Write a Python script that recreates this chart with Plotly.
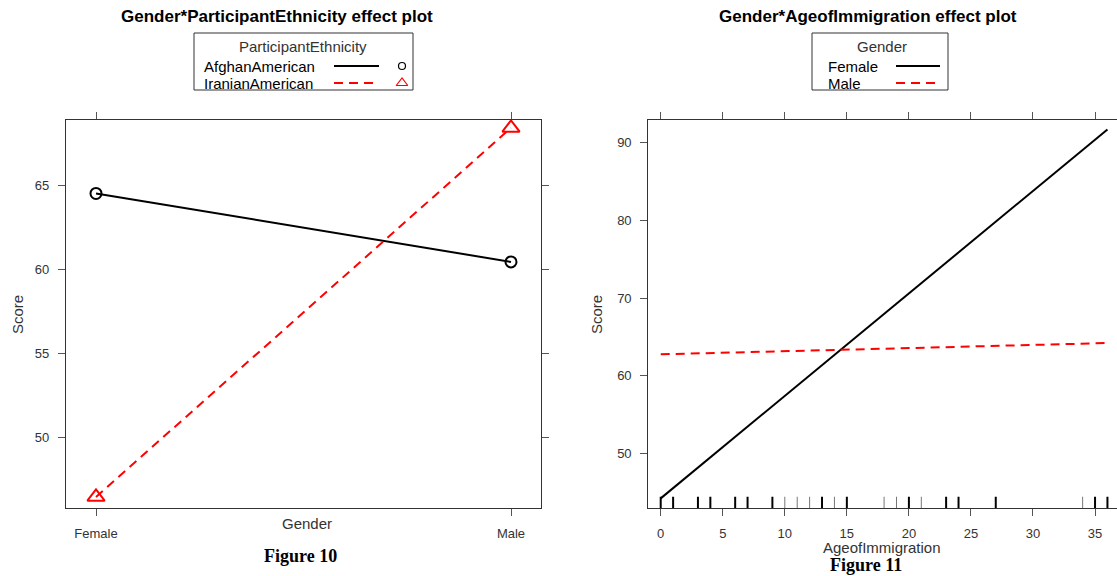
import plotly.graph_objects as go

# ---------------- data ----------------
genders = ["Female", "Male"]
ethnicities = ["AfghanAmerican", "IranianAmerican"]
afghan_score = [64.5, 60.43]
iranian_score = [46.45, 68.4]

age_points = [0, 36]
gender_levels = ["Female", "Male"]
female_score = [44.2, 91.7]
male_score = [62.75, 64.2]
rug_ages = [0, 1, 3, 4, 6, 7, 9, 10, 11, 12, 13, 14, 15, 18, 19, 20, 21, 23, 24, 27, 34, 35, 36]
rug_thin = [10, 11, 12, 14, 18, 19, 21, 34]

left_title = "Gender*ParticipantEthnicity effect plot"
right_title = "Gender*AgeofImmigration effect plot"

W, H = 1117, 576
FONT = "Liberation Sans, Arial, sans-serif"
AX = "#333333"
TXT = "#333333"
RED = "#ff0000"

def px(x):
    return x / W

def py(y):
    return 1 - y / H

fig = go.Figure()

# left panel
fig.add_trace(go.Scatter(x=genders, y=afghan_score, mode="lines+markers", xaxis="x", yaxis="y",
                         line=dict(color="black", width=2),
                         marker=dict(symbol="circle-open", size=11, color="black", line=dict(width=2)),
                         showlegend=False, name=ethnicities[0]))
fig.add_trace(go.Scatter(x=genders, y=iranian_score, mode="lines+markers", xaxis="x", yaxis="y",
                         line=dict(color=RED, width=2, dash="9px,6px"),
                         marker=dict(symbol="triangle-up-open", size=15, color=RED, line=dict(width=2)),
                         showlegend=False, name=ethnicities[1]))

# right panel
fig.add_trace(go.Scatter(x=age_points, y=female_score, mode="lines", xaxis="x2", yaxis="y2",
                         line=dict(color="black", width=2), showlegend=False, name=gender_levels[0]))
fig.add_trace(go.Scatter(x=age_points, y=male_score, mode="lines", xaxis="x2", yaxis="y2",
                         line=dict(color=RED, width=2, dash="9px,6px"), showlegend=False, name=gender_levels[1]))

shapes = []
for a in rug_ages:
    thin = a in rug_thin
    shapes.append(dict(type="line", xref="x2", yref="y2 domain", x0=a, x1=a, y0=0, y1=0.029,
                       line=dict(color="#777777" if thin else "black", width=1 if thin else 2)))

# legend overlay axis in pixel coordinates
fig.add_trace(go.Scatter(x=[402], y=[66], mode="markers", xaxis="x3", yaxis="y3",
                         marker=dict(symbol="circle-open", size=7, color="black", line=dict(width=1.2)),
                         showlegend=False, hoverinfo="skip"))
fig.add_trace(go.Scatter(x=[402], y=[83], mode="markers", xaxis="x3", yaxis="y3",
                         marker=dict(symbol="triangle-up-open", size=10, color=RED, line=dict(width=1.2)),
                         showlegend=False, hoverinfo="skip"))

# legend boxes
shapes.append(dict(type="rect", xref="paper", yref="paper", x0=px(194), x1=px(413), y0=py(33), y1=py(90),
                   line=dict(color=AX, width=1)))
shapes.append(dict(type="rect", xref="paper", yref="paper", x0=px(812), x1=px(948), y0=py(33), y1=py(90),
                   line=dict(color=AX, width=1)))
# legend line samples
shapes.append(dict(type="line", xref="paper", yref="paper", x0=px(334), x1=px(379), y0=py(66), y1=py(66),
                   line=dict(color="black", width=2)))
shapes.append(dict(type="line", xref="paper", yref="paper", x0=px(334), x1=px(379), y0=py(83), y1=py(83),
                   line=dict(color=RED, width=2, dash="9px,6px")))
shapes.append(dict(type="line", xref="paper", yref="paper", x0=px(896), x1=px(940), y0=py(66), y1=py(66),
                   line=dict(color="black", width=2)))
shapes.append(dict(type="line", xref="paper", yref="paper", x0=px(896), x1=px(940), y0=py(83), y1=py(83),
                   line=dict(color=RED, width=2, dash="9px,6px")))

ann = []
def text(x, y, s, size=15, xanchor="center", bold=False, family=FONT, color=TXT, angle=0):
    ann.append(dict(x=px(x), y=py(y), xref="paper", yref="paper", text=("<b>%s</b>" % s) if bold else s,
                    showarrow=False, xanchor=xanchor, yanchor="middle", textangle=angle,
                    font=dict(size=size, family=family, color=color)))

text(277, 17, left_title, size=17, bold=True, color="black")
text(868, 17, right_title, size=17, bold=True, color="black")
text(303, 46, "ParticipantEthnicity", size=15)
text(202, 66, ethnicities[0], size=15, xanchor="left", color="black")
text(202, 83, ethnicities[1], size=15, xanchor="left", color="black")
text(882, 46, "Gender", size=15)
text(826, 66, gender_levels[0], size=15, xanchor="left", color="black")
text(826, 83, gender_levels[1], size=15, xanchor="left", color="black")
text(17, 315, "Score", size=15, angle=-90)
text(596, 315, "Score", size=15, angle=-90)
text(307, 523, "Gender", size=15)
text(882, 547, "AgeofImmigration", size=15)
text(301, 556, "Figure 10", size=18, bold=True, family="Liberation Serif, Times New Roman, serif", color="black")
text(866, 565, "Figure 11", size=18, bold=True, family="Liberation Serif, Times New Roman, serif", color="black")

axcommon = dict(showline=True, linecolor=AX, linewidth=1.2, ticks="outside", ticklen=7, tickcolor="#555555",
                tickwidth=1.2, showgrid=False, zeroline=False,
                tickfont=dict(size=13, family=FONT, color=TXT))

ydom = [py(508), py(120)]
fig.update_layout(
    width=W, height=H, margin=dict(l=0, r=0, t=0, b=0),
    paper_bgcolor="white", plot_bgcolor="rgba(0,0,0,0)",
    xaxis=dict(domain=[px(66), px(541)], type="category", range=[-0.0723, 1.0723], mirror="ticks",
               anchor="y", ticklabelstandoff=6, **axcommon),
    yaxis=dict(domain=ydom, range=[45.79, 68.87], tickvals=[50, 55, 60, 65], mirror="ticks",
               anchor="x", ticklabelstandoff=6, **axcommon),
    xaxis2=dict(domain=[px(648.3), 1.0], range=[-1.0, 36.77], tickvals=[0, 5, 10, 15, 20, 25, 30, 35],
                mirror="ticks", anchor="y2", ticklabelstandoff=6, **axcommon),
    yaxis2=dict(domain=ydom, range=[42.96, 92.92], tickvals=[50, 60, 70, 80, 90], mirror=False,
                anchor="x2", ticklabelstandoff=6, **axcommon),
    xaxis3=dict(domain=[0, 1], range=[0, W], visible=False, anchor="y3", fixedrange=True),
    yaxis3=dict(domain=[0, 1], range=[H, 0], visible=False, anchor="x3", fixedrange=True),
    shapes=shapes, annotations=ann,
)

fig.write_html("out.html")
